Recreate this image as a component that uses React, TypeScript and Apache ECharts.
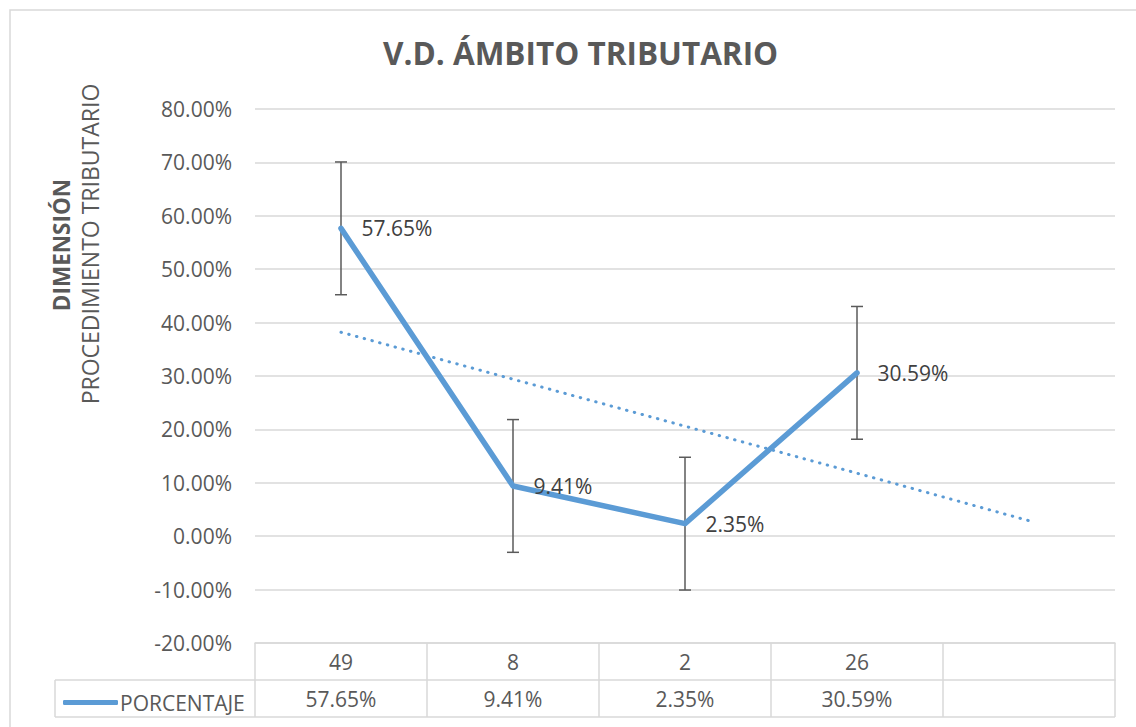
import React, { useEffect, useRef } from "react";
import * as echarts from "echarts";

const categories = ["49", "8", "2", "26", ""];
const seriesName = "PORCENTAJE";
const values = [0.5765, 0.0941, 0.0235, 0.3059];
const errorMargins = [0.1243, 0.1243, 0.1243, 0.1243];
const trendValues = [0.382, 0.294, 0.206, 0.118, 0.029];
const yTicks = { min: -0.2, max: 0.8, interval: 0.1 };
const title = "V.D. ÁMBITO TRIBUTARIO";
const yTitleBold = "DIMENSIÓN";
const yTitle = "PROCEDIMIENTO TRIBUTARIO";

const FONT = "'Open Sans', 'Noto Sans', sans-serif";
const GRID = "#d9d9d9";
const TEXT = "#595959";
const BLUE = "#5b9bd5";

function pct(v: number) {
  return (v * 100).toFixed(2) + "%";
}

export default function App() {
  const ref = useRef<HTMLDivElement>(null);
  useEffect(() => {
    if (!ref.current) return;
    const chart = echarts.init(ref.current, null, { renderer: "svg" });
    const valueRow = categories.map((_, i) => (i < values.length ? pct(values[i]) : ""));
    const option: any = {
      animation: false,
      backgroundColor: "#ffffff",
      title: {
        text: title,
        left: 378,
        top: 31,
        textStyle: { fontFamily: FONT, fontSize: 31.5, fontWeight: "bold", color: TEXT },
      },
      legend: {
        data: [seriesName],
        left: 58,
        top: 687,
        icon: "roundRect",
        itemWidth: 55,
        itemHeight: 5,
        itemGap: 0,
        textStyle: { fontFamily: FONT, fontSize: 21, color: TEXT, padding: [0, 0, 0, -3] },
      },
      grid: { left: 255, right: 21, top: 109, bottom: 84, containLabel: false },
      xAxis: [
        {
          type: "category",
          data: categories,
          boundaryGap: true,
          axisLine: { show: true, onZero: false, lineStyle: { color: GRID, width: 1.5 } },
          axisTick: { show: true, length: 74, lineStyle: { color: GRID, width: 1.5 } },
          axisLabel: { fontFamily: FONT, fontSize: 21, color: TEXT, margin: 8, interval: 0 },
          splitLine: { show: false },
        },
        {
          type: "category",
          data: valueRow,
          position: "bottom",
          offset: 37,
          boundaryGap: true,
          axisLine: { show: true, onZero: false, lineStyle: { color: GRID, width: 1.5 } },
          axisTick: { show: false },
          axisLabel: { fontFamily: FONT, fontSize: 21, color: TEXT, margin: 8, interval: 0 },
          splitLine: { show: false },
        },
      ],
      yAxis: {
        type: "value",
        min: yTicks.min,
        max: yTicks.max,
        interval: yTicks.interval,
        axisLine: { show: false },
        axisTick: { show: false },
        axisLabel: {
          fontFamily: FONT,
          fontSize: 21,
          color: TEXT,
          margin: 23,
          formatter: (v: number) => pct(v),
        },
        splitLine: { lineStyle: { color: GRID, width: 1.5 } },
      },
      series: [
        {
          name: "Tendencia",
          type: "line",
          data: trendValues,
          symbol: "none",
          z: 1,
          lineStyle: { color: BLUE, width: 3, type: [0.5, 7.5], cap: "round" },
          silent: true,
        },
        {
          name: "errores",
          type: "custom",
          z: 3,
          data: values.map((v, i) => [i, v, errorMargins[i]]),
          encode: { x: 0, y: 1 },
          renderItem: (params: any, api: any) => {
            const x = api.value(0);
            const v = api.value(1);
            const e = api.value(2);
            const top = api.coord([x, v + e]);
            const bot = api.coord([x, v - e]);
            const cap = 6;
            const style = { stroke: "#5a5a5a", lineWidth: 1.5 };
            return {
              type: "group",
              children: [
                { type: "line", shape: { x1: top[0], y1: top[1], x2: bot[0], y2: bot[1] }, style },
                { type: "line", shape: { x1: top[0] - cap, y1: top[1], x2: top[0] + cap, y2: top[1] }, style },
                { type: "line", shape: { x1: bot[0] - cap, y1: bot[1], x2: bot[0] + cap, y2: bot[1] }, style },
              ],
            };
          },
          silent: true,
        },
        {
          name: seriesName,
          type: "line",
          data: values,
          symbol: "circle",
          symbolSize: 1,
          showSymbol: true,
          z: 4,
          lineStyle: { color: BLUE, width: 5.5, cap: "round", join: "round" },
          itemStyle: { color: BLUE },
          label: {
            show: true,
            position: "right",
            distance: 20,
            fontFamily: FONT,
            fontSize: 21,
            color: "#404040",
            formatter: (p: any) => pct(p.value),
          },
          labelLayout: { hideOverlap: false },
        },
      ],
      graphic: [
        {
          type: "rect",
          shape: { x: 10, y: 10, width: 1150, height: 740 },
          style: { fill: "none", stroke: GRID, lineWidth: 1.5 },
          silent: true,
        },
        {
          type: "line",
          shape: { x1: 55, y1: 680, x2: 255, y2: 680 },
          style: { stroke: GRID, lineWidth: 1.5 },
        },
        {
          type: "line",
          shape: { x1: 55, y1: 717, x2: 1115, y2: 717 },
          style: { stroke: GRID, lineWidth: 1.5 },
        },
        {
          type: "line",
          shape: { x1: 55, y1: 680, x2: 55, y2: 717 },
          style: { stroke: GRID, lineWidth: 1.5 },
        },
        {
          type: "text",
          x: 61,
          y: 245,
          rotation: Math.PI / 2,
          style: {
            text: yTitleBold,
            fontFamily: FONT,
            fontSize: 22.5,
            fontWeight: "bold",
            fill: TEXT,
            textAlign: "center",
            textVerticalAlign: "middle",
          },
        },
        {
          type: "text",
          x: 90,
          y: 244,
          rotation: Math.PI / 2,
          style: {
            text: yTitle,
            fontFamily: FONT,
            fontSize: 23,
            fill: TEXT,
            textAlign: "center",
            textVerticalAlign: "middle",
          },
        },
      ],
    };
    chart.setOption(option);
    return () => chart.dispose();
  }, []);
  return (
    <div
      ref={ref}
      style={{ position: "fixed", left: 0, top: 0, width: 1136, height: 727, background: "#fff" }}
    />
  );
}
